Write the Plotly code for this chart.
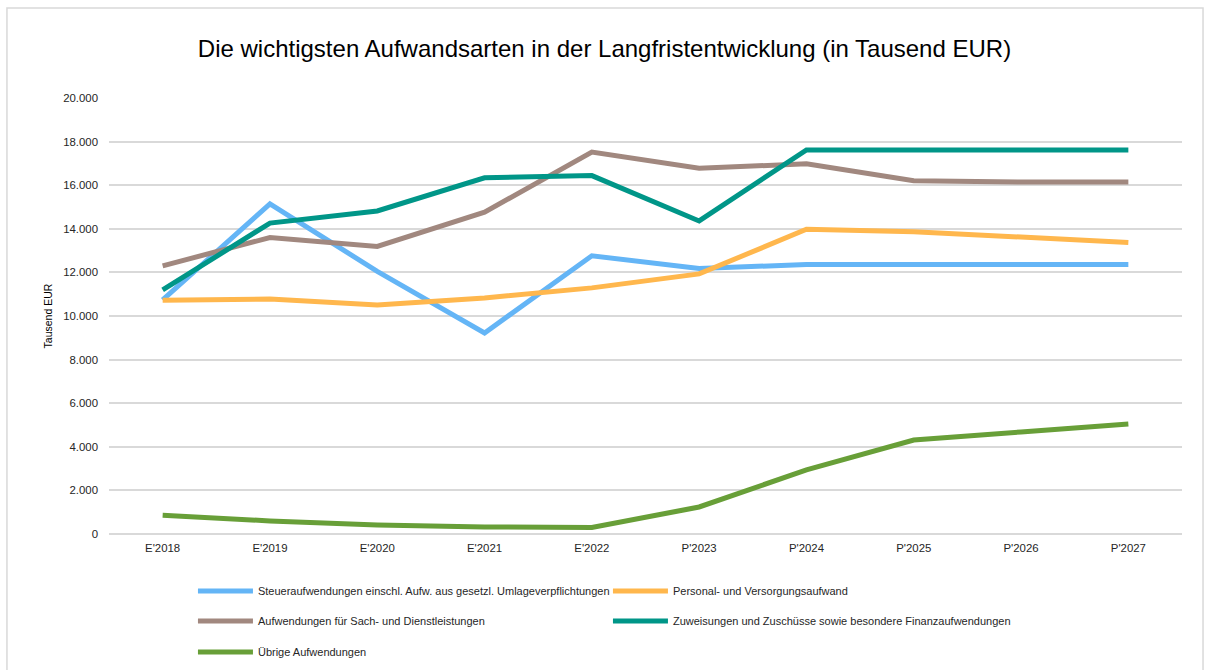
import plotly.graph_objects as go

categories = ["E'2018", "E'2019", "E'2020", "E'2021", "E'2022",
              "P'2023", "P'2024", "P'2025", "P'2026", "P'2027"]

steuer = [10740, 15140, 12050, 9220, 12760, 12180, 12360, 12360, 12360, 12360]
personal = [10720, 10780, 10500, 10830, 11290, 11930, 13980, 13860, 13620, 13370]
sach = [12300, 13600, 13190, 14760, 17520, 16780, 16980, 16200, 16150, 16150]
zuweisungen = [11200, 14260, 14820, 16340, 16440, 14360, 17620, 17620, 17620, 17620]
uebrige = [860, 600, 410, 320, 300, 1240, 2940, 4310, 4680, 5050]

series = [
    ("Steueraufwendungen einschl. Aufw. aus gesetzl. Umlageverpflichtungen", steuer, "#64B5F6", "legend"),
    ("Personal- und Versorgungsaufwand", personal, "#FFB74D", "legend"),
    ("Aufwendungen für Sach- und Dienstleistungen", sach, "#A1887F", "legend2"),
    ("Zuweisungen und Zuschüsse sowie besondere Finanzaufwendungen", zuweisungen, "#009688", "legend2"),
    ("Übrige Aufwendungen", uebrige, "#689F38", "legend3"),
]

fig = go.Figure()
for name, vals, color, lg in series:
    fig.add_trace(go.Scatter(
        x=categories, y=vals, name=name, mode="lines",
        line=dict(color=color, width=5),
        legend=lg,
    ))

font_family = "Liberation Sans, Arial, sans-serif"

legend_common = dict(
    orientation="h", xref="container", yref="container",
    x=0.1596, xanchor="left", yanchor="middle",
    font=dict(family=font_family, size=11, color="#262626"),
    itemwidth=55, entrywidth=345, entrywidthmode="pixels",
    bgcolor="rgba(0,0,0,0)", itemclick=False, itemdoubleclick=False,
)

fig.update_layout(
    width=1209, height=670,
    paper_bgcolor="white", plot_bgcolor="white",
    separators=",.",
    margin=dict(l=109, r=27, t=98, b=136, autoexpand=False),
    title=dict(
        text="Die wichtigsten Aufwandsarten in der Langfristentwicklung (in Tausend EUR)",
        x=0.5, xanchor="center", y=0.928, yanchor="middle",
        font=dict(family=font_family, size=24, color="#000000"),
    ),
    xaxis=dict(
        type="category", range=[-0.5, 9.5],
        showgrid=False, showline=False, zeroline=False, ticks="",
        tickfont=dict(family=font_family, size=11.4, color="#262626"),
        ticklabelstandoff=6,
    ),
    yaxis=dict(
        range=[0, 20000], dtick=2000, tickformat=",d",
        showgrid=True, gridcolor="#d9d9d9", gridwidth=1.5,
        zeroline=True, zerolinecolor="#d9d9d9", zerolinewidth=1.5,
        showline=False, ticks="",
        tickfont=dict(family=font_family, size=11.4, color="#262626"),
        ticklabelstandoff=10,
        title=dict(text="Tausend EUR", standoff=8,
                   font=dict(family=font_family, size=10.5, color="#000000")),
    ),
    legend=dict(legend_common, y=1 - 591 / 670),
    legend2=dict(legend_common, y=1 - 621 / 670),
    legend3=dict(legend_common, y=1 - 652 / 670),
    shapes=[dict(type="rect", xref="paper", yref="paper",
                 x0=-0.0951, x1=1.0196, y0=-0.4, y1=1.2064,
                 line=dict(color="#d9d9d9", width=1.5), fillcolor="rgba(0,0,0,0)",
                 layer="below")],
)

fig.write_html("out.html", config={"displayModeBar": False},
               post_script="document.body.style.margin='0';")
